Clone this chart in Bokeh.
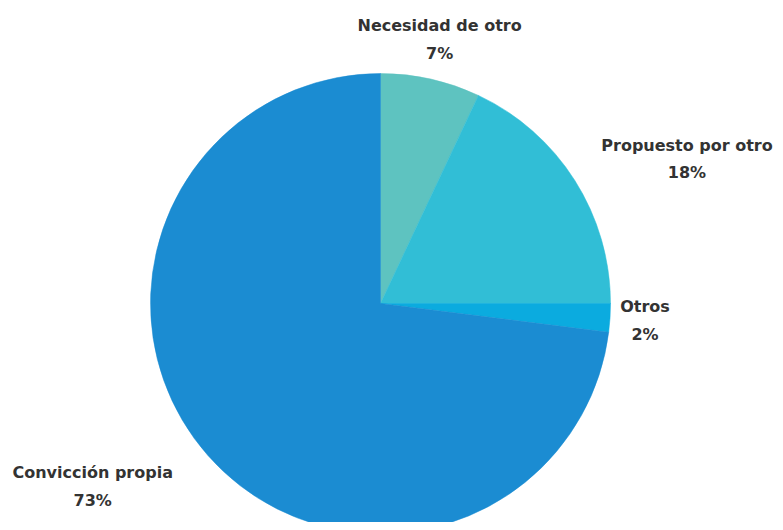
import math
from bokeh.plotting import figure
from bokeh.models import Range1d, ColumnDataSource
from bokeh.core.properties import value
from bokeh.embed import file_html
from bokeh.resources import INLINE

labels = ["Necesidad de otro", "Propuesto por otro", "Otros", "Convicción propia"]
percents = [7, 18, 2, 73]
colors = ["#5EC3C0", "#31BED6", "#0BABDF", "#1B8CD2"]

W, H = 775, 522
cx, cy, R = 380, H - 303, 230
R_lab = [271, 270, 265, 276]
sides = [0, 1, 0, -1]

total = sum(percents)
starts, ends = [], []
acc = 0.0
for v in percents:
    starts.append(math.pi / 2 - acc / total * 2 * math.pi)
    acc += v
    ends.append(math.pi / 2 - acc / total * 2 * math.pi)

src = ColumnDataSource(dict(x=[cx] * 4, y=[cy] * 4, s=starts, e=ends, c=colors))

p = figure(width=W, height=H, output_backend="svg", toolbar_location=None,
           x_range=Range1d(0, W), y_range=Range1d(0, H), min_border=0)
p.axis.visible = False
p.grid.visible = False
p.outline_line_color = None
p.background_fill_color = "white"

p.wedge(x="x", y="y", radius=R, start_angle="s", end_angle="e", direction="clock",
        fill_color="c", line_color="c", line_width=0.5, source=src)

lx, ly, names, pcts = [], [], [], []
for lab, v, s, e, r, sd in zip(labels, percents, starts, ends, R_lab, sides):
    mid = (s + e) / 2
    ax = cx + r * math.cos(mid)
    ay = cy + r * math.sin(mid)
    w = len(lab) * 9.5
    x_c = ax + sd * w / 2
    x_c = min(x_c, W - 3 - w / 2)
    x_c = max(x_c, 3 + w / 2)
    lx.append(x_c)
    ly.append(ay)
    names.append(lab)
    pcts.append(f"{v}%")

lsrc = ColumnDataSource(dict(x=lx, y=ly, n=names, p=pcts))
p.text(x="x", y="y", text="n", source=lsrc, text_align="center", text_baseline="middle",
       y_offset=-13.5, text_font=value("DejaVu Sans"), text_font_style="bold",
       text_font_size="16px", text_color="#333333")
p.text(x="x", y="y", text="p", source=lsrc, text_align="center", text_baseline="middle",
       y_offset=14, text_font=value("DejaVu Sans"), text_font_style="bold",
       text_font_size="16px", text_color="#333333")

open("out.html", "w").write(file_html(p, INLINE))
